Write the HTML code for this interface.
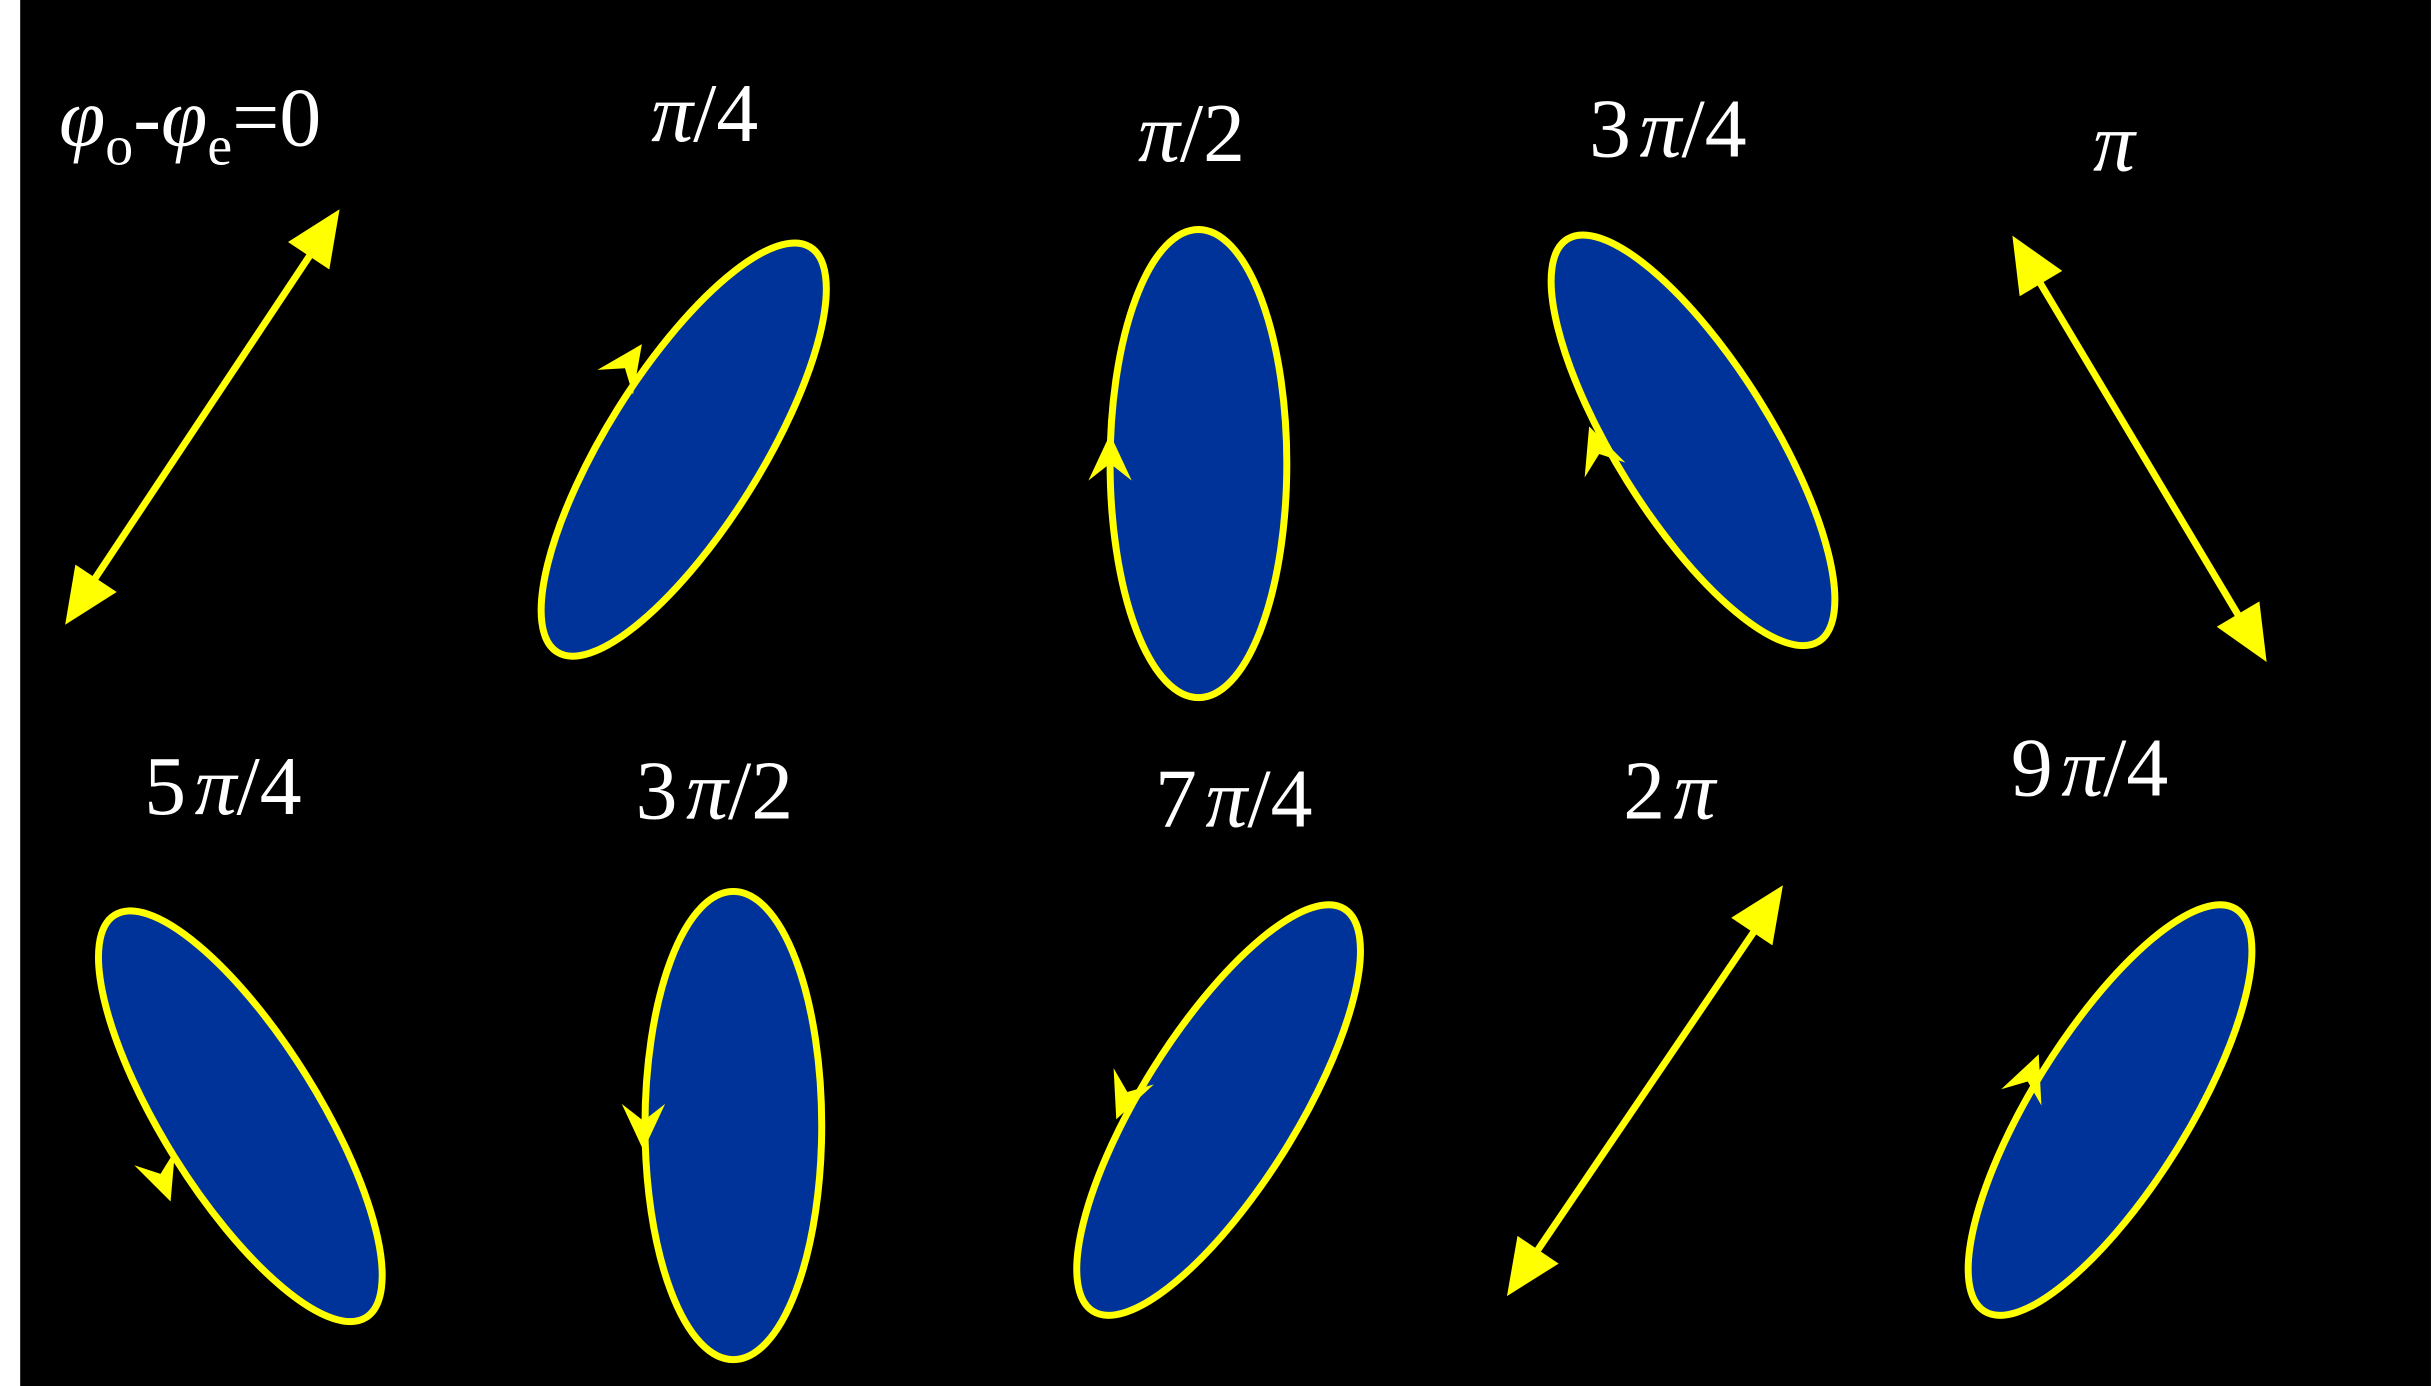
<!DOCTYPE html>
<html><head><meta charset="utf-8"><style>
html,body{margin:0;padding:0;background:#fff;}
svg{display:block;}
text{font-family:"Liberation Serif",serif;fill:#fff;font-size:54px;}
.i{font-style:italic;}
</style></head><body>
<svg width="2431" height="1386" viewBox="0 0 1568 894" xmlns="http://www.w3.org/2000/svg">
<rect x="0" y="0" width="1568" height="894" fill="#fff"/>
<rect x="13" y="0" width="1555" height="894" fill="#000"/>
<defs>
<path id="ch" d="M0,0 L-30,-14 L-19,0 L-30,14 Z" fill="#ffff00"/>
<path id="tri" d="M0,0 L-36,-16 L-36,16 Z" fill="#ffff00"/>
</defs>
<g fill="#003399" stroke="#ffff00" stroke-width="4.5">
<ellipse cx="0" cy="0" rx="154" ry="50" transform="translate(441,290) rotate(-58)"/>
<ellipse cx="773" cy="299" rx="57" ry="151"/>
<ellipse cx="0" cy="0" rx="153" ry="50" transform="translate(1092,284) rotate(58)"/>
<ellipse cx="0" cy="0" rx="153" ry="50" transform="translate(155,720) rotate(58)"/>
<ellipse cx="473" cy="726" rx="57" ry="151"/>
<ellipse cx="0" cy="0" rx="153" ry="50" transform="translate(786,716) rotate(-58)"/>
<ellipse cx="0" cy="0" rx="153" ry="50" transform="translate(1361,716) rotate(-58)"/>
</g>
<use href="#ch" transform="translate(414,222) rotate(-55)"/>
<use href="#ch" transform="translate(716,280) rotate(-90)"/>
<use href="#ch" transform="translate(1025,275) rotate(-110)"/>
<use href="#ch" transform="translate(110,775) rotate(70)"/>
<use href="#ch" transform="translate(415,742) rotate(90)"/>
<use href="#ch" transform="translate(720,722) rotate(112)"/>
<use href="#ch" transform="translate(1315,680) rotate(-68)"/>
<g stroke="#ffff00" stroke-width="4.5">
<line x1="58" y1="378" x2="203" y2="160"/>
<line x1="1312" y1="176" x2="1448" y2="404"/>
<line x1="988" y1="812" x2="1136" y2="594"/>
</g>
<use href="#tri" transform="translate(219,135) rotate(-56.4)"/>
<use href="#tri" transform="translate(42,403) rotate(123.6)"/>
<use href="#tri" transform="translate(1298,152) rotate(-120.8)"/>
<use href="#tri" transform="translate(1462,427) rotate(59.2)"/>
<use href="#tri" transform="translate(1150,571) rotate(-56.1)"/>
<use href="#tri" transform="translate(972,836) rotate(123.9)"/>
<text x="38" y="94"><tspan class="i">φ</tspan><tspan font-size="36" dy="12">o</tspan><tspan dy="-12">-</tspan><tspan class="i">φ</tspan><tspan font-size="36" dy="12">e</tspan><tspan dy="-12">=0</tspan></text>
<text x="420" y="91"><tspan class="i">π</tspan>/4</text>
<text x="734" y="104"><tspan class="i">π</tspan>/2</text>
<text x="1025" y="101">3 <tspan class="i" dx="-8">π</tspan>/4</text>
<text x="1350" y="110" class="i">π</text>
<text x="93" y="525">5 <tspan class="i" dx="-8">π</tspan>/4</text>
<text x="410" y="528">3 <tspan class="i" dx="-8">π</tspan>/2</text>
<text x="745" y="533">7 <tspan class="i" dx="-8">π</tspan>/4</text>
<text x="1047" y="528">2 <tspan class="i" dx="-8">π</tspan></text>
<text x="1297" y="513">9 <tspan class="i" dx="-8">π</tspan>/4</text>
</svg>
</body></html>
